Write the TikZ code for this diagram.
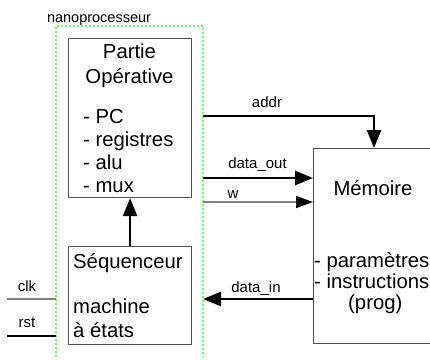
\documentclass[tikz,border=0pt]{standalone}
\usepackage{fontspec}
\setmainfont{Liberation Sans}
\usetikzlibrary{arrows.meta}
\definecolor{boxgray}{HTML}{505050}
\definecolor{wiregray}{HTML}{808080}
\definecolor{dotgreen}{HTML}{66FF66}
\begin{document}
\begin{tikzpicture}[x=1pt,y=-1pt,
  box/.style={draw=boxgray, line width=1.2pt, inner sep=0pt, anchor=north west},
  big/.style={font=\fontsize{20.3}{23}\selectfont, inner sep=0pt},
  lbl/.style={font=\fontsize{15}{17}\selectfont, inner sep=0pt, anchor=base},
  bus/.style={line width=2.5pt, -{Triangle[length=18pt,width=14pt]}},
  thinbus/.style={draw=wiregray, line width=1.6pt, -{Triangle[length=17pt,width=12pt,color=black]}},
  pin/.style={line width=1.2pt},
  frame/.style={draw=dotgreen, line width=1.6pt, dash pattern=on 2pt off 2pt}
]
\useasboundingbox (0,0) rectangle (430,359);
\clip (0,0) rectangle (430,359);

% frame
\draw[frame] (56,357) -- (56,26) -- (203,26) -- (203,357);
\node[lbl, font=\fontsize{14.5}{17}\selectfont] (nano) at (99,22) {nanoprocesseur};

% boxes
\node[box, minimum width=123pt, minimum height=159pt] (po) at (68,38) {};
\node[box, minimum width=123pt, minimum height=98pt] (seq) at (68,246) {};
\node[box, minimum width=140pt, minimum height=195pt] (mem) at (313,148) {};

% Partie Operative text
\node[big, anchor=base] (po1) at (129.5,58) {Partie};
\node[big, anchor=base] (po2) at (129.5,83) {Opérative};
\node[big, anchor=base west] (po3) at (83,123) {- PC};
\node[big, anchor=base west] (po4) at (83,146) {- registres};
\node[big, anchor=base west] (po5) at (83,169) {- alu};
\node[big, anchor=base west] (po6) at (83,192) {- mux};

% Sequenceur text
\node[big, anchor=base west] (sq1) at (73,268) {Séquenceur};
\node[big, anchor=base west] (sq2) at (73,313) {machine};
\node[big, anchor=base west] (sq3) at (73,337) {à états};

% Memoire text
\node[big, anchor=base] (me1) at (373,195) {Mémoire};
\node[big, anchor=base west] (me2) at (314,267) {- paramètres};
\node[big, anchor=base west] (me3) at (314,288) {- instructions};
\node[big, anchor=base west] (me4) at (348,309) {(prog)};

% connectors
\coordinate (addrS) at (203,116);
\coordinate (addrE) at (374,148);
\draw[bus] (addrS) -| (addrE);
\node[lbl] (addrL) at (267,107) {addr};

\coordinate (doS) at (203,178);
\draw[bus] (doS) -- (doS -| mem.west);
\node[lbl] (doL) at (257.5,168) {data\_out};

\coordinate (wS) at (203,202);
\draw[thinbus] (wS) -- (wS -| mem.west);
\node[lbl] (wL) at (233,198) {w};

\coordinate (diE) at (203,299);
\draw[bus] (diE -| mem.west) -- (diE);
\node[lbl] (diL) at (256,292) {data\_in};

\draw[bus] (seq.north) -- (po.south);

\coordinate (clkS) at (7,299);
\coordinate (clkE) at (56,299);
\draw[pin, draw=wiregray] (clkS) -- (clkE);
\node[lbl] (clkL) at (27,291) {clk};

\coordinate (rstS) at (7,336);
\coordinate (rstE) at (56,336);
\draw[pin] (rstS) -- (rstE);
\node[lbl] (rstL) at (27,327) {rst};
\end{tikzpicture}
\end{document}
